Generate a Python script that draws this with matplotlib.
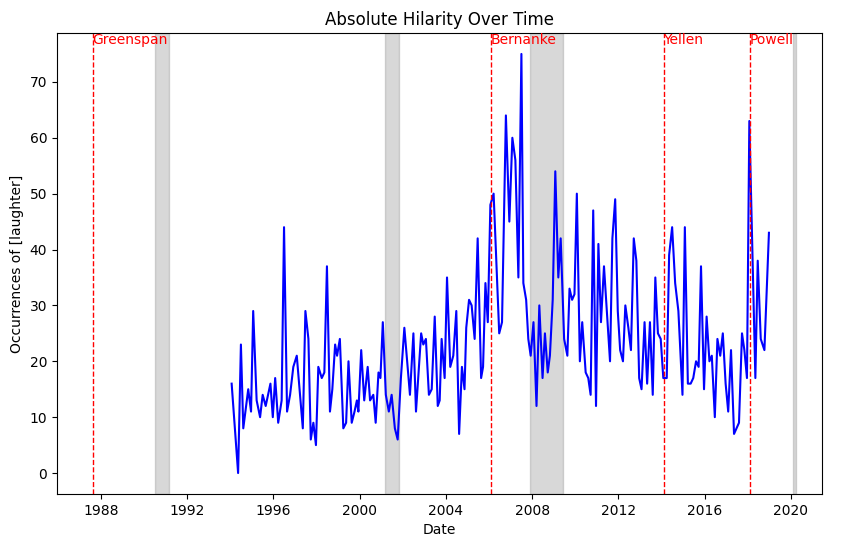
import pandas as pd
import numpy as np
import matplotlib
matplotlib.use("Agg")
import matplotlib.pyplot as plt

# meeting dates (decimal years) and count of [laughter] in each transcript
years = [
    1994.06, 1994.36, 1994.49, 1994.60, 1994.83, 1994.96, 1995.06, 1995.22, 1995.38, 1995.50,
    1995.64, 1995.86, 1995.97, 1996.08, 1996.22, 1996.38, 1996.49, 1996.63, 1996.77, 1996.92,
    1997.08, 1997.36, 1997.48, 1997.62, 1997.73, 1997.85, 1997.97, 1998.08, 1998.24, 1998.36,
    1998.48, 1998.62, 1998.73, 1998.86, 1998.95, 1999.08, 1999.24, 1999.37, 1999.48, 1999.63,
    1999.76, 1999.87, 1999.94, 2000.07, 2000.21, 2000.37, 2000.48, 2000.63, 2000.74, 2000.87,
    2000.96, 2001.07, 2001.21, 2001.35, 2001.48, 2001.63, 2001.76, 2001.91, 2002.07, 2002.33,
    2002.49, 2002.61, 2002.85, 2002.95, 2003.07, 2003.21, 2003.34, 2003.48, 2003.62, 2003.71,
    2003.80, 2003.94, 2004.05, 2004.20, 2004.34, 2004.48, 2004.61, 2004.74, 2004.86, 2004.94,
    2005.07, 2005.19, 2005.33, 2005.47, 2005.63, 2005.72, 2005.83, 2005.94, 2006.06, 2006.21,
    2006.47, 2006.60, 2006.78, 2006.94, 2007.08, 2007.22, 2007.36, 2007.50, 2007.59, 2007.72,
    2007.82, 2007.93, 2008.06, 2008.20, 2008.33, 2008.48, 2008.59, 2008.72, 2008.82, 2008.95,
    2009.07, 2009.21, 2009.32, 2009.48, 2009.63, 2009.73, 2009.85, 2009.96, 2010.07, 2010.21,
    2010.32, 2010.48, 2010.60, 2010.71, 2010.83, 2010.96, 2011.07, 2011.19, 2011.33, 2011.46,
    2011.61, 2011.72, 2011.85, 2011.97, 2012.08, 2012.21, 2012.32, 2012.46, 2012.58, 2012.71,
    2012.83, 2012.96, 2013.07, 2013.21, 2013.33, 2013.46, 2013.59, 2013.71, 2013.83, 2013.96,
    2014.08, 2014.24, 2014.35, 2014.49, 2014.63, 2014.78, 2014.97, 2015.08, 2015.22, 2015.35,
    2015.47, 2015.60, 2015.72, 2015.83, 2015.97, 2016.09, 2016.22, 2016.33, 2016.47, 2016.59,
    2016.72, 2016.84, 2016.97, 2017.09, 2017.22, 2017.36, 2017.59, 2017.73, 2017.84, 2017.96,
    2018.07, 2018.35, 2018.46, 2018.60, 2018.77, 2018.98,
]
laughter = [
    16, 0, 23, 8, 15, 11, 29, 13, 10, 14,
    12, 16, 10, 17, 9, 13, 44, 11, 14, 19,
    21, 8, 29, 24, 6, 9, 5, 19, 17, 18,
    37, 11, 15, 23, 21, 24, 8, 9, 20, 9,
    11, 13, 11, 22, 13, 19, 13, 14, 9, 18,
    17, 27, 14, 11, 14, 8, 6, 17, 26, 14,
    25, 11, 25, 23, 24, 14, 15, 28, 12, 13,
    24, 17, 35, 19, 21, 29, 7, 19, 15, 26,
    31, 30, 24, 42, 17, 19, 34, 27, 48, 50,
    25, 27, 64, 45, 60, 56, 35, 75, 34, 31,
    24, 21, 27, 12, 30, 17, 25, 18, 21, 31,
    54, 35, 42, 24, 21, 33, 31, 32, 50, 20,
    27, 18, 17, 14, 47, 12, 41, 27, 37, 29,
    20, 42, 49, 29, 22, 20, 30, 26, 22, 42,
    38, 17, 15, 27, 16, 27, 14, 35, 25, 24,
    17, 17, 39, 44, 34, 29, 14, 44, 16, 16,
    17, 20, 19, 37, 15, 28, 20, 21, 10, 24,
    21, 25, 16, 11, 22, 7, 9, 25, 22, 17,
    63, 17, 38, 24, 22, 43,
]

chairs = ["Greenspan", "Bernanke", "Yellen", "Powell"]
chair_start = ["1987-08-11", "2006-02-01", "2014-02-03", "2018-02-05"]

recession_start = ["1990-07-01", "2001-03-01", "2007-12-01", "2020-02-01"]
recession_end = ["1991-03-01", "2001-11-01", "2009-06-01", "2020-04-01"]


def decimal_year_to_date(y):
    year = int(y)
    start = pd.Timestamp(year=year, month=1, day=1)
    end = pd.Timestamp(year=year + 1, month=1, day=1)
    return start + (end - start) * (y - year)


dates = [decimal_year_to_date(y) for y in years]

fig = plt.figure(figsize=(8.41, 5.47), dpi=100)
ax = fig.add_axes([57 / 841, 1 - 494 / 547, (822 - 57) / 841, (494 - 33) / 547])

ax.plot(dates, laughter, color="blue")
ax.set_xlim(decimal_year_to_date(1985.96), decimal_year_to_date(2021.44))
ax.set_ylim(-3.75, 78.75)

for s, e in zip(recession_start, recession_end):
    ax.axvspan(pd.Timestamp(s), pd.Timestamp(e), color="gray", alpha=0.3)

top = ax.get_ylim()[1]
for name, start in zip(chairs, chair_start):
    d = pd.Timestamp(start)
    ax.axvline(d, color="red", linestyle="--", linewidth=1)
    ax.text(d, top, name, color="red", va="top", ha="left", fontsize=10)

ax.set_title("Absolute Hilarity Over Time")
ax.set_xlabel("Date")
ax.set_ylabel("Occurrences of [laughter]")

fig.savefig("out.png", dpi=100)
